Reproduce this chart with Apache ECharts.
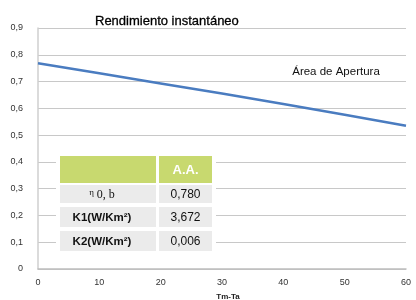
<!DOCTYPE html>
<html>
<head>
<meta charset="utf-8">
<script src="https://cdn.jsdelivr.net/npm/echarts@6/dist/echarts.min.js"></script>
<style>
  html, body { margin: 0; padding: 0; background: #fff; }
  #chart { width: 416px; height: 300px; }
</style>
</head>
<body>
<div id="chart"></div>
<script>
// Tm-Ta values and efficiency
var tmTa = [0, 10, 20, 30, 40, 50, 60]
var rendimiento = [0.768, 0.731, 0.693, 0.655, 0.616, 0.576, 0.535]
var seriesName = 'Área de Apertura'

// table of coefficients
var tableHeader = 'A.A.'
var tableLabels = ['{eta|η}0, b', 'K1(W/Km²)', 'K2(W/Km²)']
var tableValues = ['0,780', '3,672', '0,006']

var chart = echarts.init(document.getElementById('chart'))

function fmt(v) {
  return String(Math.round(v * 10) / 10).replace('.', ',')
}

// table cells
var green = '#c8d96f'
var grey = '#ebebeb'
var rowTops = [185, 207, 231]
var rowHeights = [18, 20, 20]
var tableGraphic = [
  { type: 'rect', shape: { x: 56, y: 153, width: 160, height: 102 }, style: { fill: '#fff' }, z: 10 },
  { type: 'rect', shape: { x: 60, y: 156, width: 96, height: 27 }, style: { fill: green }, z: 11 },
  { type: 'rect', shape: { x: 159, y: 156, width: 53, height: 27 }, style: { fill: green }, z: 11 },
  {
    type: 'text', x: 185.5, y: 170, z: 12,
    style: { text: tableHeader, fill: '#fff', font: 'bold 13px "Liberation Sans", Arial, sans-serif', align: 'center', verticalAlign: 'middle' }
  }
]
tableLabels.forEach(function(label, i) {
  var top = rowTops[i]
  var h = rowHeights[i]
  tableGraphic.push({ type: 'rect', shape: { x: 60, y: top, width: 96, height: h }, style: { fill: grey }, z: 11 })
  tableGraphic.push({ type: 'rect', shape: { x: 159, y: top, width: 53, height: h }, style: { fill: grey }, z: 11 })
  tableGraphic.push({
    type: 'text', x: 102, y: top + h / 2 + 0.5, z: 12,
    style: {
      text: label,
      fill: '#111',
      font: i === 0 ? '12px "Liberation Serif", "DejaVu Serif", serif' : 'bold 11.5px "Liberation Sans", Arial, sans-serif',
      align: 'center',
      verticalAlign: 'middle',
      rich: {
        eta: { fontSize: 9, fontFamily: '"Liberation Serif", serif', padding: [0, 3, 4, 0], fill: '#111' }
      }
    }
  })
  tableGraphic.push({
    type: 'text', x: 185.5, y: top + h / 2 + 0.5, z: 12,
    style: { text: tableValues[i], fill: '#111', font: '12px "Liberation Sans", Arial, sans-serif', align: 'center', verticalAlign: 'middle' }
  })
})

chart.setOption({
  animation: false,
  textStyle: { fontFamily: '"Liberation Sans", Arial, sans-serif' },
  title: {
    text: 'Rendimiento instantáneo',
    left: 90,
    top: 10,
    textStyle: { fontSize: 13, fontWeight: 'normal', color: '#000', textBorderColor: '#000', textBorderWidth: 0.3 }
  },
  grid: {
    left: 38,
    right: 10,
    top: 28,
    bottom: 31,
    outerBoundsMode: 'none'
  },
  xAxis: {
    type: 'value',
    min: 0,
    max: 60,
    interval: 10,
    name: 'Tm-Ta',
    nameLocation: 'middle',
    nameGap: 24,
    nameTextStyle: { fontSize: 8, fontWeight: 'bold', color: '#222', padding: [0, 0, 0, 12] },
    axisLine: { show: true, lineStyle: { color: '#bdbdbd', width: 1.5 } },
    axisTick: { show: false },
    axisLabel: { fontSize: 9, color: '#333', margin: 9 },
    splitLine: { show: false }
  },
  yAxis: {
    type: 'value',
    min: 0,
    max: 0.9,
    interval: 0.1,
    axisLine: { show: true, lineStyle: { color: '#cfcfcf', width: 1.5 } },
    axisTick: { show: false },
    axisLabel: { fontSize: 9, color: '#333', margin: 15, formatter: fmt },
    splitLine: { show: true, lineStyle: { color: '#c8c8c8', width: 1 } }
  },
  series: [
    {
      name: seriesName,
      type: 'line',
      data: tmTa.map(function(x, i) { return [x, rendimiento[i]] }),
      showSymbol: false,
      lineStyle: { color: '#4a7cc0', width: 2.5 }
    }
  ],
  graphic: [
    {
      type: 'text', x: 336, y: 72,
      style: { text: seriesName, fill: '#111', font: '11.5px "Liberation Sans", Arial, sans-serif', align: 'center', verticalAlign: 'middle' }
    }
  ].concat(tableGraphic)
})
</script>
</body>
</html>
